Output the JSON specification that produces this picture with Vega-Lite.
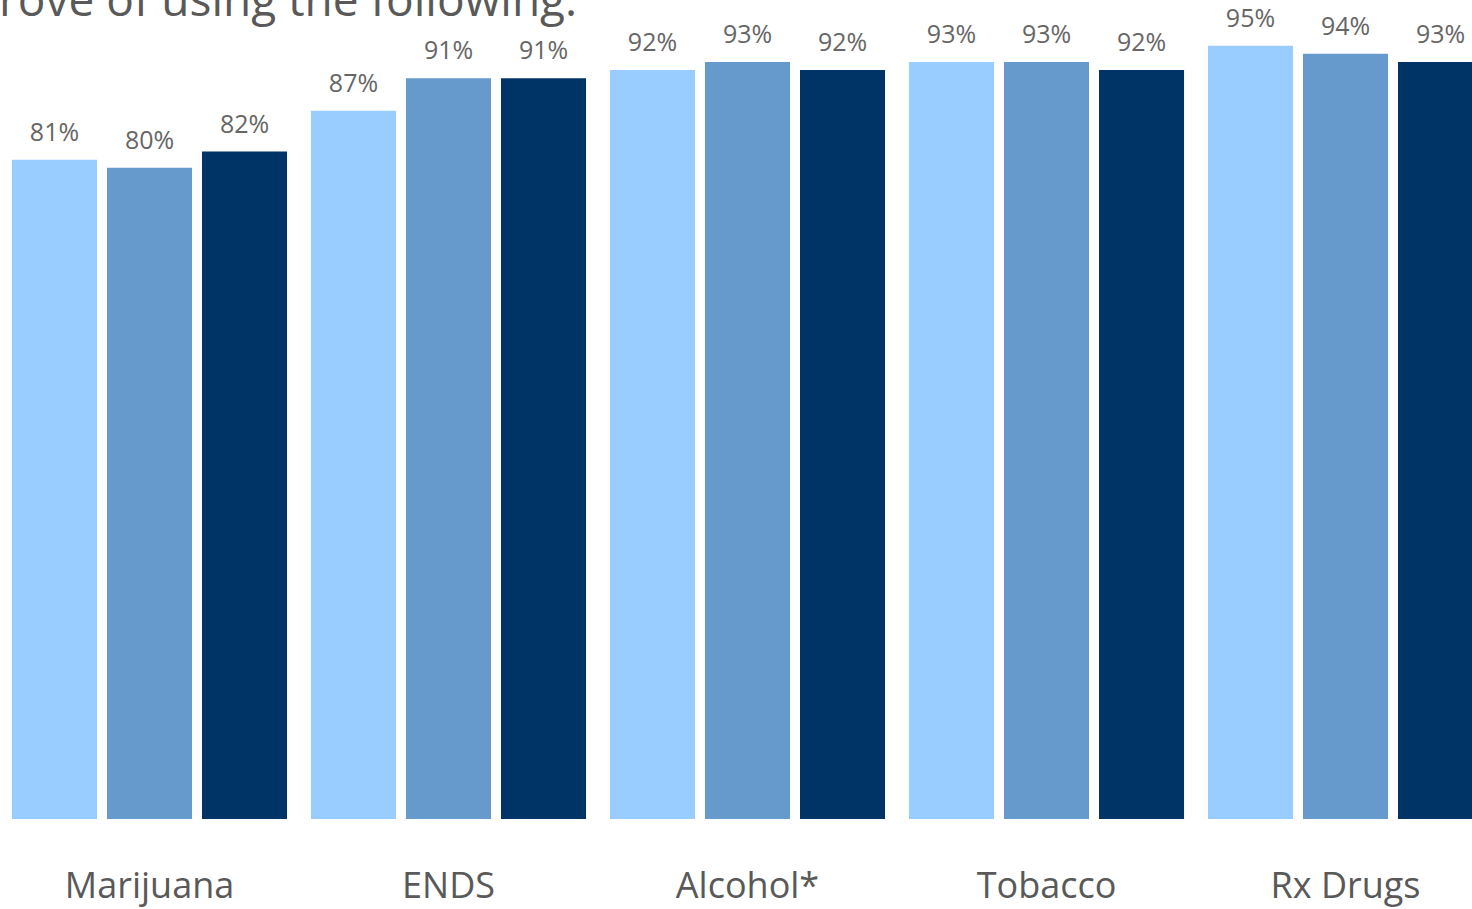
{
  "$schema": "https://vega.github.io/schema/vega-lite/v6.json",
  "autosize": {"type": "none"},
  "width": 1472,
  "height": 814,
  "padding": {"top": 5, "left": 0, "right": 0, "bottom": 90},
  "background": "white",
  "title": {
    "text": "rove of using the following:",
    "anchor": "start",
    "frame": "group",
    "font": "Open Sans",
    "fontSize": 46,
    "fontWeight": "normal",
    "color": "#595959",
    "baseline": "alphabetic",
    "offset": -57,
    "dx": -1
  },
  "config": {"view": {"stroke": null}},
  "data": {
    "values": [
      {"substance": "Marijuana", "series": "S1", "pct": 0.81},
      {"substance": "Marijuana", "series": "S2", "pct": 0.80},
      {"substance": "Marijuana", "series": "S3", "pct": 0.82},
      {"substance": "ENDS", "series": "S1", "pct": 0.87},
      {"substance": "ENDS", "series": "S2", "pct": 0.91},
      {"substance": "ENDS", "series": "S3", "pct": 0.91},
      {"substance": "Alcohol*", "series": "S1", "pct": 0.92},
      {"substance": "Alcohol*", "series": "S2", "pct": 0.93},
      {"substance": "Alcohol*", "series": "S3", "pct": 0.92},
      {"substance": "Tobacco", "series": "S1", "pct": 0.93},
      {"substance": "Tobacco", "series": "S2", "pct": 0.93},
      {"substance": "Tobacco", "series": "S3", "pct": 0.92},
      {"substance": "Rx Drugs", "series": "S1", "pct": 0.95},
      {"substance": "Rx Drugs", "series": "S2", "pct": 0.94},
      {"substance": "Rx Drugs", "series": "S3", "pct": 0.93}
    ]
  },
  "encoding": {
    "x": {
      "field": "substance",
      "type": "nominal",
      "sort": null,
      "scale": {"range": [0, 1495], "paddingInner": 0.08, "paddingOuter": 0.04},
      "axis": {
        "title": null,
        "domain": false,
        "ticks": false,
        "tickSize": 0,
        "grid": false,
        "labelAngle": 0,
        "labelFont": "Open Sans",
        "labelFontSize": 36,
        "labelColor": "#595959",
        "labelBaseline": "alphabetic",
        "labelPadding": 78
      }
    },
    "xOffset": {
      "field": "series",
      "type": "nominal",
      "scale": {"paddingInner": 0.105, "paddingOuter": 0}
    },
    "y": {
      "field": "pct",
      "type": "quantitative",
      "scale": {"domain": [0, 1], "nice": false},
      "axis": null
    }
  },
  "layer": [
    {
      "mark": {"type": "bar"},
      "encoding": {
        "color": {
          "field": "series",
          "type": "nominal",
          "scale": {"domain": ["S1", "S2", "S3"], "range": ["#99CCFF", "#6699CC", "#003366"]},
          "legend": null
        }
      }
    },
    {
      "mark": {
        "type": "text",
        "font": "Open Sans",
        "fontSize": 25,
        "color": "#666666",
        "baseline": "alphabetic",
        "dy": -19
      },
      "encoding": {
        "text": {"field": "pct", "type": "quantitative", "format": ".0%"}
      }
    }
  ]
}
